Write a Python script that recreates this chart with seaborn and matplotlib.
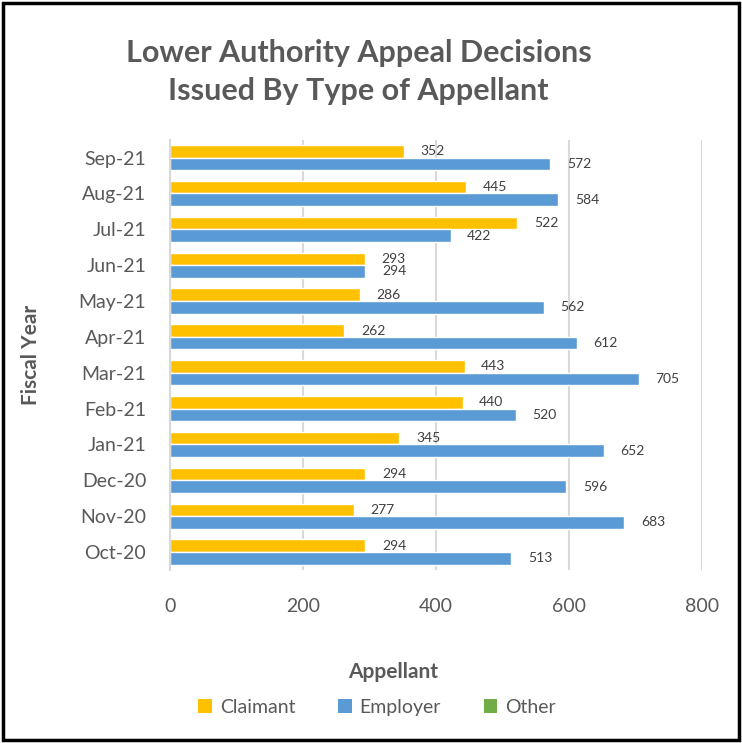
import pandas as pd
import matplotlib.pyplot as plt
import seaborn as sns
from matplotlib.patches import Patch, Rectangle

# 데이터 (위에서 아래 순서)
months = ['Sep-21', 'Aug-21', 'Jul-21', 'Jun-21', 'May-21', 'Apr-21',
          'Mar-21', 'Feb-21', 'Jan-21', 'Dec-20', 'Nov-20', 'Oct-20']
claimant = [352, 445, 522, 293, 286, 262, 443, 440, 345, 294, 277, 294]
employer = [572, 584, 422, 294, 562, 612, 705, 520, 652, 596, 683, 513]
other = [0] * 12
x_ticks = [0, 200, 400, 600, 800]

colors = {'Claimant': '#FFC000', 'Employer': '#5B9BD5', 'Other': '#70AD47'}
gray = '#595959'

df = pd.DataFrame({'month': months, 'Claimant': claimant, 'Employer': employer, 'Other': other})
long_df = df.melt(id_vars='month', var_name='Appellant', value_name='count')
bar_df = long_df[long_df['Appellant'] != 'Other']

sns.set_style('white')
plt.rcParams['font.family'] = ['Lato', 'DejaVu Sans']

fig = plt.figure(figsize=(7.42, 7.43), dpi=100)
ax = fig.add_axes([0.229, 0.233, 0.717, 0.579])

sns.barplot(data=bar_df, y='month', x='count', hue='Appellant', order=months,
            hue_order=['Claimant', 'Employer'], palette=colors, width=0.7,
            orient='h', ax=ax, legend=False, saturation=1)

for c in ax.containers:
    ax.bar_label(c, padding=12, fontsize=10, color='#404040')

ax.set_xlim(0, 800)
ax.set_xticks(x_ticks)
ax.set_ylim(11.5, -0.5)
ax.grid(axis='x', color='#D9D9D9', linewidth=1.5)
ax.set_axisbelow(True)
for s in ['top', 'right', 'bottom']:
    ax.spines[s].set_visible(False)
ax.spines['left'].set_color('#D9D9D9')
ax.spines['left'].set_linewidth(1.5)
ax.tick_params(axis='x', length=0, pad=20, labelsize=14, labelcolor=gray)
ax.tick_params(axis='y', length=0, pad=17, labelsize=14, labelcolor=gray)
ax.set_xlabel('')
ax.set_ylabel('')

fig.text(0.483, 0.903, 'Lower Authority Appeal Decisions\nIssued By Type of Appellant',
         ha='center', va='center', fontsize=22, fontweight='bold', color=gray,
         linespacing=1.45)
fig.text(0.042, 0.522, 'Fiscal Year', rotation=90, ha='center', va='center',
         fontsize=15, fontweight='bold', color=gray)
fig.text(0.53, 0.095, 'Appellant', ha='center', va='center',
         fontsize=15, fontweight='bold', color=gray)

handles = [Patch(facecolor=colors[k], edgecolor='none', label=k) for k in ['Claimant', 'Employer', 'Other']]
fig.legend(handles=handles, loc='center', bbox_to_anchor=(0.508, 0.048), ncol=3,
           frameon=False, fontsize=14, labelcolor=gray, handlelength=0.7,
           handleheight=0.7, handletextpad=0.4, columnspacing=2.2)

fig.patches.append(Rectangle((0.004, 0.004), 0.992, 0.992, transform=fig.transFigure,
                             fill=False, edgecolor='black', linewidth=2.5))

fig.savefig('out.png', dpi=100)
